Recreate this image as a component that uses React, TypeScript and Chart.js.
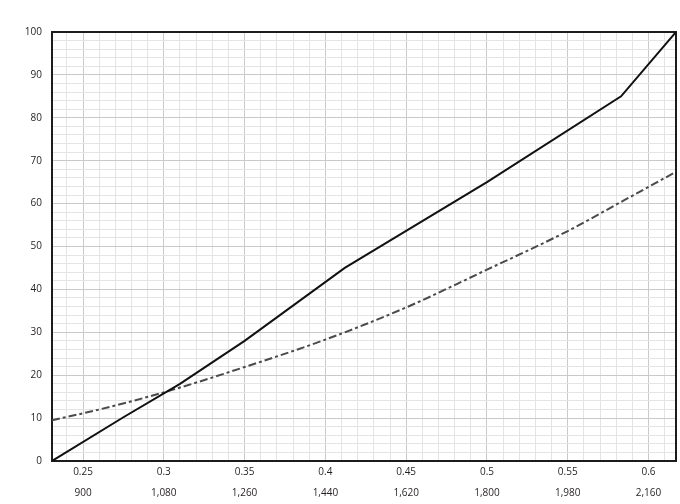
import React, { useEffect, useRef } from "react";
import { Chart, registerables } from "chart.js";

Chart.register(...registerables);

// Axis ranges / ticks
const xMin = 0.2308;
const xMax = 0.617;
const xMajorTicks = [0.25, 0.3, 0.35, 0.4, 0.45, 0.5, 0.55, 0.6];
const xTopLabels = ["0.25", "0.3", "0.35", "0.4", "0.45", "0.5", "0.55", "0.6"];
const xBottomLabels = ["900", "1,080", "1,260", "1,440", "1,620", "1,800", "1,980", "2,160"];
const yMajorTicks = [0, 10, 20, 30, 40, 50, 60, 70, 80, 90, 100];

// Series: solid curve
const solidX = [0.2308, 0.275, 0.31, 0.35, 0.412, 0.5, 0.583, 0.617];
const solidY = [0, 10.2, 18, 28, 45, 65, 85, 100];

// Series: dash-dot curve
const dashX = [0.2308, 0.26, 0.3, 0.35, 0.4, 0.45, 0.5, 0.55, 0.585, 0.617];
const dashY = [9.5, 12, 16, 21.9, 28.3, 35.8, 44.6, 53.6, 60.8, 67.4];

const FONT = { family: "'Open Sans', sans-serif", size: 10 };

function isMajorX(v: number) {
  return xMajorTicks.findIndex((m) => Math.abs(m - v) < 1e-6);
}

const boxPlugin = {
  id: "box",
  beforeDatasetsDraw(chart: any) {
    const { ctx, chartArea } = chart;
    ctx.save();
    ctx.strokeStyle = "#1c1c1c";
    ctx.lineWidth = 2;
    ctx.strokeRect(chartArea.left, chartArea.top, chartArea.right - chartArea.left, chartArea.bottom - chartArea.top);
    ctx.restore();
  },
};

export default function App() {
  const ref = useRef<HTMLCanvasElement>(null);
  useEffect(() => {
    if (!ref.current) return;
    const chart = new Chart(ref.current, {
      type: "line",
      data: {
        datasets: [
          {
            label: "solid",
            data: solidX.map((x, i) => ({ x, y: solidY[i] })),
            borderColor: "#111111",
            borderWidth: 2,
            pointRadius: 0,
            tension: 0,
          },
          {
            label: "dashed",
            data: dashX.map((x, i) => ({ x, y: dashY[i] })),
            borderColor: "#4a4a4a",
            borderWidth: 2,
            borderDash: [8, 3, 3, 3],
            pointRadius: 0,
            cubicInterpolationMode: "monotone",
          },
        ],
      },
      options: {
        animation: false,
        responsive: false,
        layout: { padding: { top: 32, right: 4, left: 0, bottom: 0 } },
        plugins: { legend: { display: false }, tooltip: { enabled: false } },
        scales: {
          x: {
            type: "linear",
            min: xMin,
            max: xMax,
            afterBuildTicks: (axis: any) => {
              const t: any[] = [];
              for (let k = 24; k <= 61; k++) t.push({ value: k / 100 });
              axis.ticks = t;
            },
            afterFit: (axis: any) => {
              axis.height = 43;
            },
            ticks: {
              autoSkip: false,
              maxRotation: 0,
              minRotation: 0,
              padding: 1,
              color: "#231f20",
              font: { ...FONT, lineHeight: 2.1 },
              callback: (v: any) => {
                const i = isMajorX(Number(v));
                return i >= 0 ? [xTopLabels[i], xBottomLabels[i]] : "";
              },
            },
            grid: {
              drawTicks: false,
              lineWidth: 1,
              color: (c: any) => (c.tick && isMajorX(c.tick.value) >= 0 ? "#c9c9c9" : "#e4e4e4"),
            },
            border: { display: false },
          },
          y: {
            type: "linear",
            min: 0,
            max: 100,
            afterBuildTicks: (axis: any) => {
              const t: any[] = [];
              for (let k = 0; k <= 50; k++) t.push({ value: k * 2 });
              axis.ticks = t;
            },
            afterFit: (axis: any) => {
              axis.width = 52;
            },
            ticks: {
              autoSkip: false,
              padding: 10,
              color: "#231f20",
              font: FONT,
              callback: (v: any) => (yMajorTicks.includes(Number(v)) ? String(v) : ""),
            },
            grid: {
              drawTicks: false,
              lineWidth: 1,
              color: (c: any) => (c.tick && yMajorTicks.includes(c.tick.value) ? "#c9c9c9" : "#e4e4e4"),
            },
            border: { display: false },
          },
        },
      },
      plugins: [boxPlugin],
    } as any);
    return () => chart.destroy();
  }, []);
  return (
    <div style={{ position: "absolute", left: 0, top: 0, width: 680, height: 504, background: "#fff" }}>
      <canvas ref={ref} width={680} height={504} style={{ width: 680, height: 504 }} />
    </div>
  );
}
